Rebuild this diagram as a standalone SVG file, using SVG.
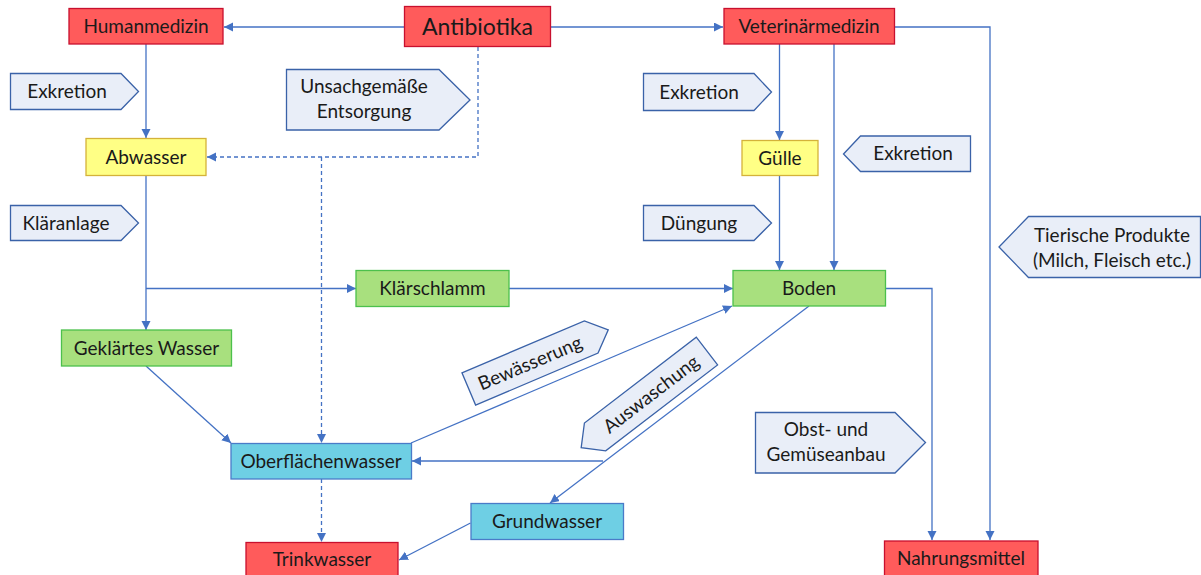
<svg xmlns="http://www.w3.org/2000/svg" width="1201" height="575" viewBox="0 0 1201 575">
<style>
text{font-family:Lato,"Open Sans","Liberation Sans",sans-serif;font-size:19px;fill:#1a1a1a;text-anchor:middle}
.big{font-size:23px}
.red{fill:#FF5B5B;stroke:#C8102E;stroke-width:1.3}
.yel{fill:#FFFF85;stroke:#D4B23A;stroke-width:1.3}
.grn{fill:#A8E07E;stroke:#4CC04C;stroke-width:1.3}
.cyn{fill:#6ECFE4;stroke:#4A7BC8;stroke-width:1.3}
.lbl{fill:#E9EEF8;stroke:#3A62A8;stroke-width:1.3}
.c{fill:none;stroke:#4472C4;stroke-width:1.3}
.d{stroke-dasharray:4,3}
.a{marker-end:url(#ah)}
</style>
<defs>
<marker id="ah" markerUnits="userSpaceOnUse" markerWidth="10" markerHeight="10" refX="9" refY="4.5" orient="auto">
<path d="M0,0 L9,4.5 L0,9 z" fill="#4472C4"/>
</marker>
</defs>
<g id="connectors">
<path class="c a" d="M404,27 H224"/>
<path class="c a" d="M551,27 H723"/>
<path class="c a" d="M146,44 V138"/>
<path class="c d a" d="M478,47 V157 H207"/>
<path class="c d a" d="M321.5,157 V443"/>
<path class="c a" d="M146,176 V330"/>
<path class="c a" d="M146,288.5 H356"/>
<path class="c a" d="M509,288.5 H733"/>
<path class="c a" d="M146,366 L231,443"/>
<path class="c a" d="M411,443 L732,306"/>
<path class="c a" d="M809,306 L550,503"/>
<path class="c a" d="M603,461 H412"/>
<path class="c d a" d="M321.5,479 V542"/>
<path class="c a" d="M470.5,523 L399,560"/>
<path class="c a" d="M779.5,44 V140"/>
<path class="c a" d="M779.5,176 V270"/>
<path class="c a" d="M834,44 V270"/>
<path class="c a" d="M895,27 H990 V540"/>
<path class="c a" d="M885,288.5 H932 V540"/>
</g>
<g id="antibiotika"><rect class="red" x="404.5" y="6.5" width="146" height="40"/><text class="big" x="477.5" y="26.5" dy="0.35em">Antibiotika</text></g>
<g id="humanmedizin"><rect class="red" x="69" y="8.5" width="154" height="35.5"/><text x="146" y="26" dy="0.35em">Humanmedizin</text></g>
<g id="veterinaermedizin"><rect class="red" x="724" y="8.5" width="170.5" height="35.5"/><text x="809" y="26" dy="0.35em">Veterinärmedizin</text></g>
<g id="abwasser"><rect class="yel" x="86" y="138.5" width="120" height="37"/><text x="146" y="157" dy="0.35em">Abwasser</text></g>
<g id="guelle"><rect class="yel" x="742" y="140.5" width="76" height="35"/><text x="780" y="158" dy="0.35em">Gülle</text></g>
<g id="klaerschlamm"><rect class="grn" x="356" y="270.5" width="153" height="36"/><text x="432.5" y="288.5" dy="0.35em">Klärschlamm</text></g>
<g id="boden"><rect class="grn" x="733" y="270.5" width="152.5" height="35.5"/><text x="809" y="288.5" dy="0.35em">Boden</text></g>
<g id="geklaertes-wasser"><rect class="grn" x="61.5" y="330" width="170" height="36"/><text x="146.5" y="348" dy="0.35em">Geklärtes Wasser</text></g>
<g id="oberflaechenwasser"><rect class="cyn" x="231" y="443.5" width="180.5" height="35.5"/><text x="321" y="461" dy="0.35em">Oberflächenwasser</text></g>
<g id="grundwasser"><rect class="cyn" x="471" y="503.5" width="152.5" height="36"/><text x="547" y="521.5" dy="0.35em">Grundwasser</text></g>
<g id="trinkwasser"><rect class="red" x="246" y="542.5" width="152" height="40"/><text x="322" y="559" dy="0.35em">Trinkwasser</text></g>
<g id="nahrungsmittel"><rect class="red" x="884.5" y="541" width="153.5" height="40"/><text x="961" y="558" dy="0.35em">Nahrungsmittel</text></g>
<g id="lbl-exkretion-1"><polygon class="lbl" points="10.5,73.5 121,73.5 138.5,91.5 121,109.5 10.5,109.5"/><text x="67" y="91.5" dy="0.35em">Exkretion</text></g>
<g id="lbl-entsorgung"><polygon class="lbl" points="286.5,69.5 439,69.5 470,100 439,130 286.5,130"/><text x="364" y="86" dy="0.35em">Unsachgemäße</text><text x="364" y="111.5" dy="0.35em">Entsorgung</text></g>
<g id="lbl-klaeranlage"><polygon class="lbl" points="10.5,205.5 121,205.5 138.5,223 121,240.5 10.5,240.5"/><text x="66" y="223" dy="0.35em">Kläranlage</text></g>
<g id="lbl-exkretion-2"><polygon class="lbl" points="643.5,73.5 754,73.5 771.5,92 754,110.5 643.5,110.5"/><text x="699" y="92" dy="0.35em">Exkretion</text></g>
<g id="lbl-duengung"><polygon class="lbl" points="643.5,205.5 754,205.5 771.5,223 754,240.5 643.5,240.5"/><text x="699" y="223" dy="0.35em">Düngung</text></g>
<g id="lbl-exkretion-3"><polygon class="lbl" points="843.5,154 860.5,136 970.5,136 970.5,171.5 860.5,171.5"/><text x="913" y="153.5" dy="0.35em">Exkretion</text></g>
<g id="lbl-tierische"><polygon class="lbl" points="999,247 1028.5,216.5 1200.5,216.5 1200.5,277.5 1028.5,277.5"/><text x="1112" y="235" dy="0.35em">Tierische Produkte</text><text x="1112" y="260" dy="0.35em">(Milch, Fleisch etc.)</text></g>
<g id="lbl-obst"><polygon class="lbl" points="755.5,412.5 895,412.5 925.5,442.5 895,473 755.5,473"/><text x="826" y="429.5" dy="0.35em">Obst- und</text><text x="826" y="454" dy="0.35em">Gemüseanbau</text></g>
<g id="lbl-bewaesserung" transform="translate(530,363) rotate(-23)"><polygon class="lbl" points="-66.5,-17.5 66.5,-17.5 85,0 66.5,17.5 -66.5,17.5"/><text x="0" y="0" dy="0.35em">Bewässerung</text></g>
<g id="lbl-auswaschung" transform="translate(651,394) rotate(-37.5)"><polygon class="lbl" points="-88,0 -70.5,-17.5 70.5,-17.5 70.5,17.5 -70.5,17.5"/><text x="0" y="0" dy="0.35em">Auswaschung</text></g>
</svg>
